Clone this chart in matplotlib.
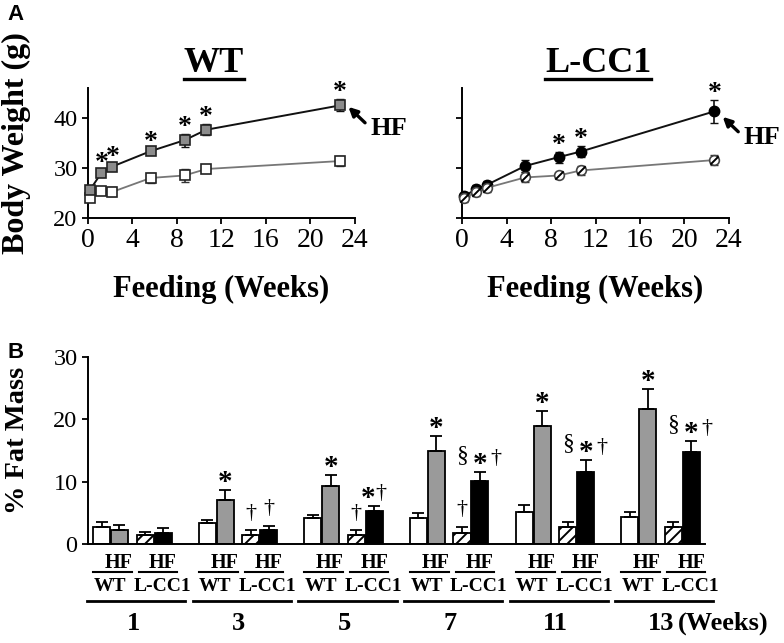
import matplotlib
matplotlib.use("Agg")
import matplotlib.pyplot as plt
from matplotlib.lines import Line2D
from matplotlib.path import Path
import numpy as np

plt.rcParams['font.family'] = ['Liberation Serif', 'DejaVu Serif']
plt.rcParams['hatch.linewidth'] = 1.4

# ---- panel A data: body weight (g) vs weeks of feeding
weeks = [0.15, 1.2, 2.2, 5.65, 8.7, 10.65, 22.7]
wt_chow = [24.0, 25.3, 25.2, 28.0, 28.5, 29.8, 31.4]
wt_chow_err = [0.5, 0.4, 0.9, 1.0, 1.3, 0.5, 1.0]
wt_hf = [25.5, 29.0, 30.3, 33.4, 35.6, 37.7, 42.6]
wt_hf_err = [0.5, 0.5, 0.5, 0.5, 1.3, 1.1, 1.2]
lcc1_chow = [23.9, 25.1, 26.0, 28.1, 28.5, 29.5, 31.6]
lcc1_chow_err = [0.8, 0.7, 0.8, 1.0, 0.5, 0.9, 1.0]
lcc1_hf = [24.3, 25.7, 26.6, 30.4, 32.2, 33.3, 41.4]
lcc1_hf_err = [0.8, 0.8, 0.8, 1.2, 1.1, 1.1, 2.3]
wt_stars = [1, 2, 3, 4, 5, 6]
lcc1_stars = [4, 5, 6]

# ---- panel B data: % fat mass
groups = ['1', '3', '5', '7', '11', '13']
fat_wt = [2.8, 3.4, 4.1, 4.1, 5.2, 4.4]
fat_wt_err = [0.8, 0.5, 0.6, 0.8, 1.0, 0.8]
fat_wt_hf = [2.2, 7.0, 9.3, 15.0, 18.9, 21.6]
fat_wt_hf_err = [0.8, 1.7, 1.7, 2.3, 2.5, 3.2]
fat_lcc1 = [1.5, 1.5, 1.4, 1.8, 2.8, 2.8]
fat_lcc1_err = [0.4, 0.7, 0.8, 1.0, 0.8, 0.8]
fat_lcc1_hf = [1.8, 2.3, 5.3, 10.1, 11.6, 14.7]
fat_lcc1_hf_err = [0.7, 0.6, 0.8, 1.5, 1.8, 1.8]
sig_wt_hf = ['', '*', '*', '*', '*', '*']
sig_lcc1 = ['', '†', '†', '†', '', '']
sig_lcc1_hf = ['', '††', '*†', '§*†', '§*†', '§*†']

W, H = 784, 643
fig = plt.figure(figsize=(W / 100, H / 100), dpi=100)


def px_axes(x0, y0, x1, y1):
    return fig.add_axes([x0 / W, 1 - y1 / H, (x1 - x0) / W, (y1 - y0) / H])


slash = Path([[-0.7, -0.7], [0.7, 0.7]])


def style_line_axes(ax, show_ylabels):
    ax.set_xlim(0, 24)
    ax.set_ylim(20, 46.1)
    ax.set_xticks([0, 4, 8, 12, 16, 20, 24])
    ax.set_yticks([20, 30, 40])
    for s in ['top', 'right']:
        ax.spines[s].set_visible(False)
    for s in ['left', 'bottom']:
        ax.spines[s].set_linewidth(1.4)
    ax.tick_params(direction='out', length=4, width=1.3)
    ax.tick_params(axis='x', labelsize=20)
    ax.tick_params(axis='y', labelsize=17.5, labelleft=show_ylabels)
    ax.set_xlabel('Feeding (Weeks)', fontsize=22, fontweight='bold', labelpad=16)


def hf_arrow(ax, x0, y0, tip, tail, txt):
    ax.annotate('', xy=(x0 + tip[0], y0 + tip[1]), xytext=(x0 + tail[0], y0 + tail[1]),
                annotation_clip=False,
                arrowprops=dict(arrowstyle='-|>', color='black', lw=2.4, mutation_scale=13, shrinkA=0, shrinkB=0))
    ax.text(x0 + txt[0], y0 + txt[1], 'HF', fontsize=19, fontweight='bold', ha='left', va='center', clip_on=False)


# WT panel
ax1 = px_axes(88, 88, 354.5, 217.7)
ax1.errorbar(weeks, wt_chow, yerr=wt_chow_err, fmt='none', ecolor='#333333', capsize=3, elinewidth=1.2, zorder=2)
ax1.errorbar(weeks, wt_hf, yerr=wt_hf_err, fmt='none', ecolor='#111111', capsize=3, elinewidth=1.2, zorder=2)
ax1.plot(weeks, wt_chow, color='#777777', lw=1.3, marker='s', ms=6.5, mfc='white', mec='#222222', mew=1.2, zorder=3, clip_on=False)
ax1.plot(weeks, wt_hf, color='#111111', lw=1.4, marker='s', ms=6.5, mfc='#8c8c8c', mec='#222222', mew=1.2, zorder=4, clip_on=False)
for i in wt_stars:
    ax1.annotate('*', (weeks[i], wt_hf[i] + wt_hf_err[i]), xytext=(0, 0), textcoords='offset points',
                 ha='center', va='baseline', fontsize=20, fontweight='bold', annotation_clip=False)
hf_arrow(ax1, weeks[6], wt_hf[6], (0.75, -0.3), (2.25, -3.5), (2.7, -4.75))
ax1.set_ylabel('Body Weight (g)', fontsize=23, fontweight='bold')
style_line_axes(ax1, True)
ax1.yaxis.set_label_coords(-0.215, 0.576)

# L-CC1 panel
ax2 = px_axes(462.3, 88, 728.8, 217.7)
ax2.errorbar(weeks, lcc1_chow, yerr=lcc1_chow_err, fmt='none', ecolor='#333333', capsize=3, elinewidth=1.2, zorder=2)
ax2.errorbar(weeks, lcc1_hf, yerr=lcc1_hf_err, fmt='none', ecolor='#111111', capsize=3, elinewidth=1.2, zorder=2)
ax2.plot(weeks, lcc1_hf, color='#111111', lw=1.4, marker='o', ms=7.5, mfc='black', mec='black', zorder=3, clip_on=False)
ax2.plot(weeks, lcc1_chow, color='#777777', lw=1.3, marker='o', ms=7, mfc='white', mec='#444444', mew=1.2, zorder=4, clip_on=False)
ax2.plot(weeks, lcc1_chow, ls='none', marker=slash, ms=6, mec='black', mew=1.4, zorder=5, clip_on=False)
for i in lcc1_stars:
    ax2.annotate('*', (weeks[i], lcc1_hf[i] + lcc1_hf_err[i]), xytext=(0, 0), textcoords='offset points',
                 ha='center', va='baseline', fontsize=20, fontweight='bold', annotation_clip=False)
hf_arrow(ax2, weeks[6], lcc1_hf[6], (0.75, -1.1), (2.15, -4.1), (2.6, -5.2))
style_line_axes(ax2, False)

# titles with underline
titles = [fig.text(214 / W, 1 - 64 / H, 'WT', fontsize=26, fontweight='bold', ha='center', va='center'),
          fig.text(598 / W, 1 - 64 / H, 'L-CC1', fontsize=26, fontweight='bold', ha='center', va='center')]

# ---- panel B
ax3 = px_axes(88, 357, 705, 544)
x = np.arange(len(groups))
bw = 0.161
offs = [0.128, 0.298, 0.540, 0.710]
ekw = dict(capsize=4, error_kw=dict(elinewidth=1.3, capthick=1.3, ecolor='black'))
z = np.zeros(len(groups))
ax3.bar(x + offs[0], fat_wt, bw, yerr=[z, fat_wt_err], color='white', edgecolor='black', lw=1.3, **ekw)
ax3.bar(x + offs[1], fat_wt_hf, bw, yerr=[z, fat_wt_hf_err], color='#9a9a9a', edgecolor='black', lw=1.3, **ekw)
ax3.bar(x + offs[2], fat_lcc1, bw, yerr=[z, fat_lcc1_err], color='white', edgecolor='black', hatch='///', lw=1.3, **ekw)
ax3.bar(x + offs[3], fat_lcc1_hf, bw, yerr=[z, fat_lcc1_hf_err], color='black', edgecolor='black', lw=1.3, **ekw)
ax3.set_xlim(0, 5.84)
ax3.set_ylim(0, 30)
ax3.set_yticks([0, 10, 20, 30])
ax3.set_xticks([])
for s in ['top', 'right']:
    ax3.spines[s].set_visible(False)
for s in ['left', 'bottom']:
    ax3.spines[s].set_linewidth(1.4)
ax3.tick_params(axis='y', direction='out', length=4, width=1.3, labelsize=17.5)
ax3.set_ylabel('% Fat Mass', fontsize=20.5, fontweight='bold')
ax3.yaxis.set_label_coords(-0.094, 0.555)


def mark(ax, xv, yv, s, dy, size, bold):
    ax.annotate(s, (xv, yv), xytext=(0, dy), textcoords='offset points', ha='center', va='baseline',
                fontsize=size, fontweight='bold' if bold else 'normal', annotation_clip=False)


for i in range(len(groups)):
    top_g = fat_wt_hf[i] + fat_wt_hf_err[i]
    top_h = fat_lcc1[i] + fat_lcc1_err[i]
    top_b = fat_lcc1_hf[i] + fat_lcc1_hf_err[i]
    if sig_wt_hf[i]:
        mark(ax3, i + offs[1], top_g, '*', 0, 21, True)
    if sig_lcc1[i]:
        mark(ax3, i + offs[2], top_h, '†', 9, 16, False)
    s = sig_lcc1_hf[i]
    if s == '††':
        mark(ax3, i + offs[3], top_b, '†', 9, 16, False)
    elif s == '*†':
        mark(ax3, i + 0.653, top_b, '*', 0, 21, True)
        mark(ax3, i + 0.776, top_b, '†', 6, 16, False)
    elif s == '§*†':
        mark(ax3, i + 0.540, top_b, '§', 8, 17, False)
        mark(ax3, i + 0.710, top_b, '*', 0, 21, True)
        mark(ax3, i + 0.862, top_b, '†', 6, 16, False)

    # group labels below the axis
    ax3.plot([i + 0.047, i + 0.417], [-4.5, -4.5], color='black', lw=1.5, clip_on=False)
    ax3.plot([i + 0.483, i + 0.843], [-4.5, -4.5], color='black', lw=1.5, clip_on=False)
    ax3.plot([i - 0.01, i + 0.92], [-9.1, -9.1], color='black', lw=2, clip_on=False)
    ax3.text(i + 0.289, -3.0, 'HF', ha='center', va='center', fontsize=14.5, fontweight='bold')
    ax3.text(i + 0.710, -3.0, 'HF', ha='center', va='center', fontsize=14.5, fontweight='bold')
    ax3.text(i + 0.205, -6.8, 'WT', ha='center', va='center', fontsize=14, fontweight='bold')
    ax3.text(i + 0.700, -6.8, 'L-CC1', ha='center', va='center', fontsize=14, fontweight='bold')
    ax3.text(i + 0.426, -12.7, groups[i], ha='center', va='center', fontsize=19, fontweight='bold')
ax3.text(5.58, -12.7, '(Weeks)', ha='left', va='center', fontsize=19, fontweight='bold')

# panel letters
fig.text(16 / W, 1 - 15 / H, 'A', fontsize=16, fontweight='bold', family='Liberation Sans', ha='center', va='center')
fig.text(16 / W, 1 - 352 / H, 'B', fontsize=16, fontweight='bold', family='Liberation Sans', ha='center', va='center')

# underline the panel titles
fig.canvas.draw()
r = fig.canvas.get_renderer()
for t in titles:
    bb = t.get_window_extent(r)
    fig.add_artist(Line2D([bb.x0 / W, bb.x1 / W], [(bb.y0 + 2) / H, (bb.y0 + 2) / H], color='black', lw=2.4))

fig.savefig('out.png', dpi=100)
